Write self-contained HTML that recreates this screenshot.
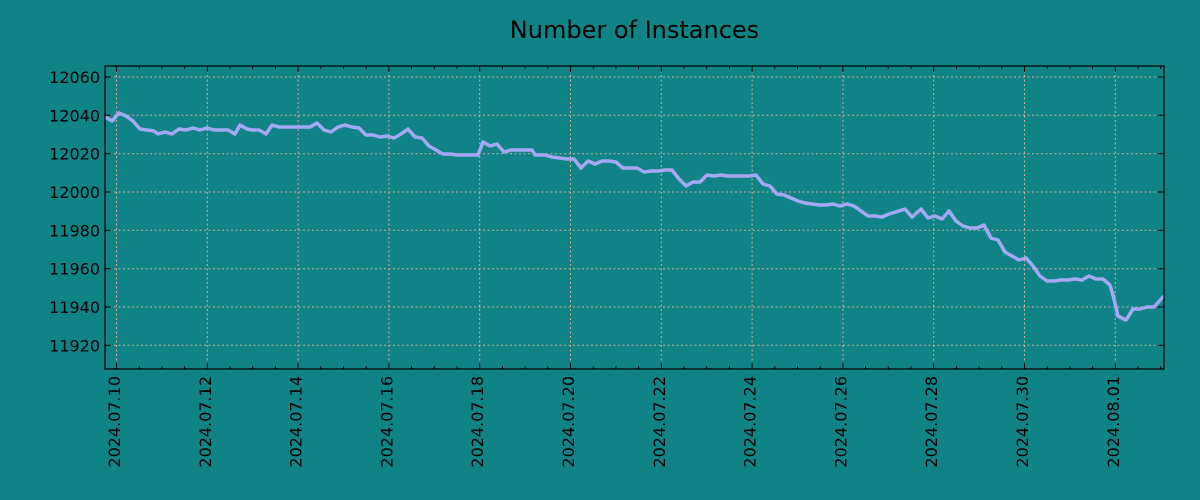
<!DOCTYPE html>
<html><head><meta charset="utf-8"><style>
html,body{margin:0;padding:0;background:#108386;}
svg{display:block;font-family:"DejaVu Sans","Liberation Sans",sans-serif;}
</style></head><body>
<svg width="1200" height="500" viewBox="0 0 1200 500" xmlns="http://www.w3.org/2000/svg">
<rect width="1200" height="500" fill="#108386"/>
<text x="634.5" y="38" text-anchor="middle" font-size="24" fill="#000">Number of Instances</text>
<g stroke="#d4aea0" stroke-width="1" stroke-dasharray="2,2.5" fill="none">
<line x1="105" x2="1164" y1="77" y2="77"/>
<line x1="105" x2="1164" y1="115.3" y2="115.3"/>
<line x1="105" x2="1164" y1="153.7" y2="153.7"/>
<line x1="105" x2="1164" y1="192" y2="192"/>
<line x1="105" x2="1164" y1="230.3" y2="230.3"/>
<line x1="105" x2="1164" y1="268.7" y2="268.7"/>
<line x1="105" x2="1164" y1="307" y2="307"/>
<line x1="105" x2="1164" y1="345.3" y2="345.3"/>
<line y1="66" y2="369" x1="116.5" x2="116.5"/>
<line y1="66" y2="369" x1="207.3" x2="207.3"/>
<line y1="66" y2="369" x1="298.1" x2="298.1"/>
<line y1="66" y2="369" x1="388.9" x2="388.9"/>
<line y1="66" y2="369" x1="479.7" x2="479.7"/>
<line y1="66" y2="369" x1="570.5" x2="570.5"/>
<line y1="66" y2="369" x1="661.3" x2="661.3"/>
<line y1="66" y2="369" x1="752.1" x2="752.1"/>
<line y1="66" y2="369" x1="842.9" x2="842.9"/>
<line y1="66" y2="369" x1="933.7" x2="933.7"/>
<line y1="66" y2="369" x1="1024.5" x2="1024.5"/>
<line y1="66" y2="369" x1="1115.3" x2="1115.3"/>
</g>
<polyline fill="none" stroke="#a5a8f5" stroke-width="3.5" stroke-linejoin="round" points="105,117 112,121 119,113 126,116 133,121 140,129 147,130 154,131 158,134 165,132 172,134 179,129 186,130 193,128 200,130 207,128 214,130 221,130 228,130 235,134 240,125 247,129 252,130 259,130 266,134 272,125 279,127 300,127 310,127 317,123 324,130 331,132 338,127 345,125 352,127 359,128 366,135 373,135 380,137 387,136 394,138 401,134 408,129 415,137 422,138 429,146 436,150 443,154 450,154 457,155 464,155 471,155 478,155 483,142 490,146 497,144 504,152 511,150 518,150 525,150 532,150 535,155 545,155 552,157 560,158 567,159 574,159 581,168 588,161 595,164 602,161 609,161 616,162 623,168 630,168 637,168 644,172 651,171 658,171 665,170 672,170 679,179 686,186 693,182 700,182 707,175 714,176 721,175 728,176 735,176 742,176 749,176 756,175 763,184 770,186 777,194 784,195 791,198 798,201 805,203 812,204 819,205 826,205 833,204 840,206 847,204 854,206 861,211 868,216 875,216 882,217 889,214 896,212 905,209 912,217 921,209 928,218 935,216 942,219 949,211 956,221 963,226 970,228 977,228 984,225 991,238 998,240 1005,252 1012,256 1019,260 1026,258 1033,266 1040,276 1047,281 1054,281 1061,280 1068,280 1075,279 1082,280 1089,276 1096,279 1103,279 1110,285 1113,295 1118,316 1126,320 1133,309 1140,309 1147,307 1154,307 1164,296"/>
<rect x="105" y="66" width="1059" height="303" fill="none" stroke="#000" stroke-width="1.2"/>
<g stroke="#000" stroke-width="1">
<path d="M105,77h6M105,115.3h6M105,153.7h6M105,192h6M105,230.3h6M105,268.7h6M105,307h6M105,345.3h6"/>
<path d="M1164,77h-6M1164,115.3h-6M1164,153.7h-6M1164,192h-6M1164,230.3h-6M1164,268.7h-6M1164,307h-6M1164,345.3h-6"/>
<path d="M116.5,369v-6M207.3,369v-6M298.1,369v-6M388.9,369v-6M479.7,369v-6M570.5,369v-6M661.3,369v-6M752.1,369v-6M842.9,369v-6M933.7,369v-6M1024.5,369v-6M1115.3,369v-6"/>
<path d="M116.5,66v6M207.3,66v6M298.1,66v6M388.9,66v6M479.7,66v6M570.5,66v6M661.3,66v6M752.1,66v6M842.9,66v6M933.7,66v6M1024.5,66v6M1115.3,66v6"/>
<path d="M139.2,369v-3M161.9,369v-3M184.6,369v-3M230,369v-3M252.7,369v-3M275.4,369v-3M320.8,369v-3M343.5,369v-3M366.2,369v-3M411.6,369v-3M434.3,369v-3M457,369v-3M502.4,369v-3M525.1,369v-3M547.8,369v-3M593.2,369v-3M615.9,369v-3M638.6,369v-3M684,369v-3M706.7,369v-3M729.4,369v-3M774.8,369v-3M797.5,369v-3M820.2,369v-3M865.6,369v-3M888.3,369v-3M911,369v-3M956.4,369v-3M979.1,369v-3M1001.8,369v-3M1047.2,369v-3M1069.9,369v-3M1092.6,369v-3M1138,369v-3M1160.7,369v-3"/>
<path d="M139.2,66v3M161.9,66v3M184.6,66v3M230,66v3M252.7,66v3M275.4,66v3M320.8,66v3M343.5,66v3M366.2,66v3M411.6,66v3M434.3,66v3M457,66v3M502.4,66v3M525.1,66v3M547.8,66v3M593.2,66v3M615.9,66v3M638.6,66v3M684,66v3M706.7,66v3M729.4,66v3M774.8,66v3M797.5,66v3M820.2,66v3M865.6,66v3M888.3,66v3M911,66v3M956.4,66v3M979.1,66v3M1001.8,66v3M1047.2,66v3M1069.9,66v3M1092.6,66v3M1138,66v3M1160.7,66v3"/>
</g>
<g font-size="16" fill="#000" text-anchor="end">
<text x="100" y="83">12060</text>
<text x="100" y="121.3">12040</text>
<text x="100" y="159.7">12020</text>
<text x="100" y="198">12000</text>
<text x="100" y="236.3">11980</text>
<text x="100" y="274.7">11960</text>
<text x="100" y="313">11940</text>
<text x="100" y="351.3">11920</text>
</g>
<g font-size="16" fill="#000" text-anchor="end">
<text transform="translate(120,376) rotate(-90)">2024.07.10</text>
<text transform="translate(210.8,376) rotate(-90)">2024.07.12</text>
<text transform="translate(301.6,376) rotate(-90)">2024.07.14</text>
<text transform="translate(392.4,376) rotate(-90)">2024.07.16</text>
<text transform="translate(483.2,376) rotate(-90)">2024.07.18</text>
<text transform="translate(574,376) rotate(-90)">2024.07.20</text>
<text transform="translate(664.8,376) rotate(-90)">2024.07.22</text>
<text transform="translate(755.6,376) rotate(-90)">2024.07.24</text>
<text transform="translate(846.4,376) rotate(-90)">2024.07.26</text>
<text transform="translate(937.2,376) rotate(-90)">2024.07.28</text>
<text transform="translate(1028,376) rotate(-90)">2024.07.30</text>
<text transform="translate(1118.8,376) rotate(-90)">2024.08.01</text>
</g>
</svg>
</body></html>
